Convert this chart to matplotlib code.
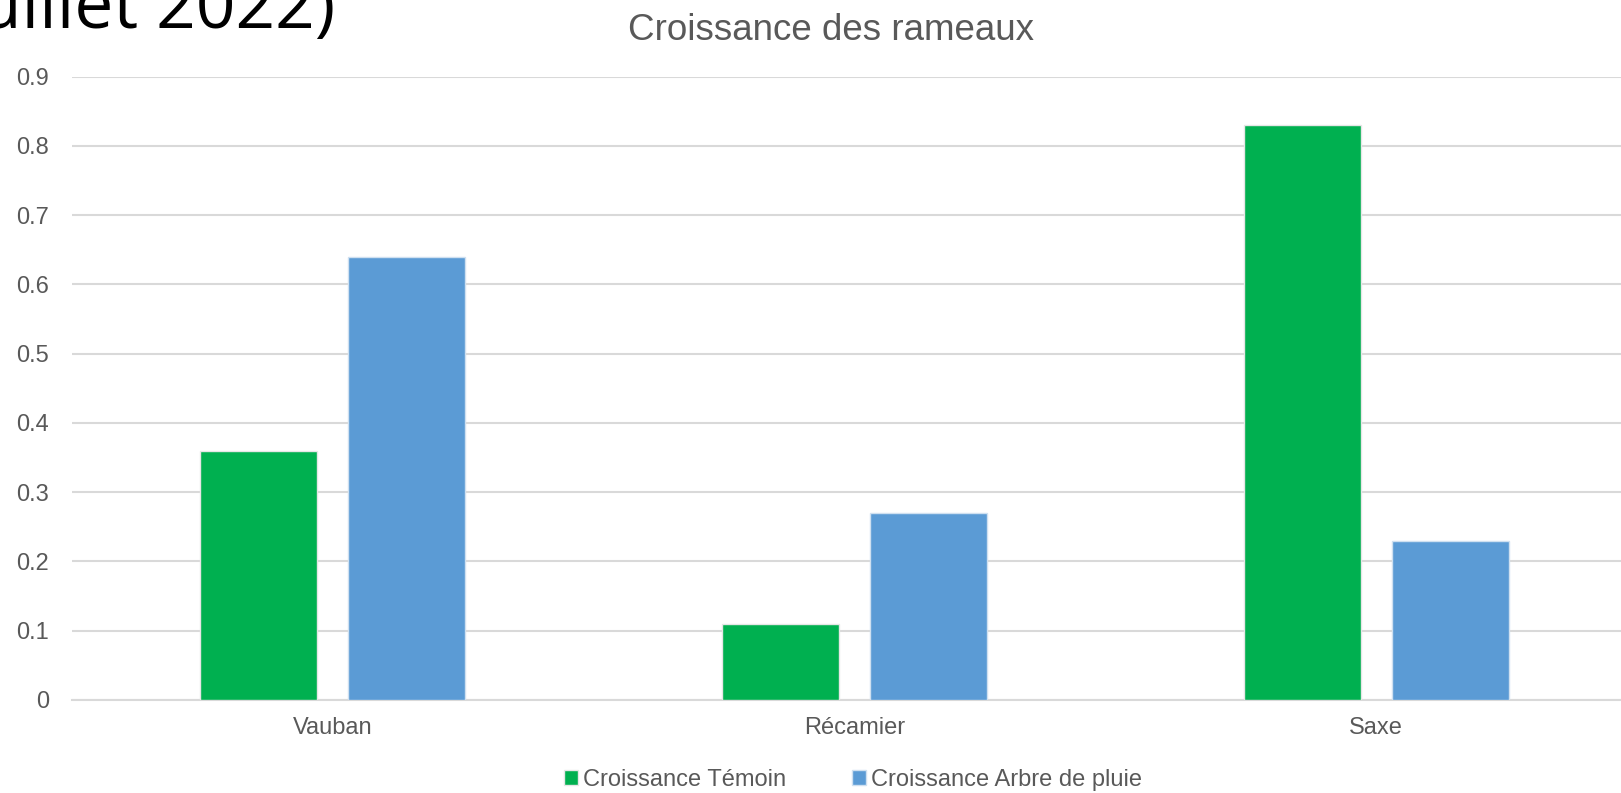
import matplotlib
matplotlib.use("Agg")
import matplotlib.pyplot as plt
import numpy as np

categories = ["Vauban", "Récamier", "Saxe"]
temoin = [0.36, 0.11, 0.83]
arbre_pluie = [0.64, 0.27, 0.23]
series_labels = ["Croissance Témoin", "Croissance Arbre de pluie"]
yticks = [0, 0.1, 0.2, 0.3, 0.4, 0.5, 0.6, 0.7, 0.8, 0.9]
ytick_labels = ["0", "0.1", "0.2", "0.3", "0.4", "0.5", "0.6", "0.7", "0.8", "0.9"]

plt.rcParams["font.family"] = ["Liberation Sans", "DejaVu Sans"]
grey = "#595959"

fig = plt.figure(figsize=(16.21, 7.93), dpi=100)
# plot area runs a little past the right edge, as in the cropped slide
ax = fig.add_axes([0.0444, 0.1173, 0.9655, 0.7862])

x = np.arange(len(categories))
w = 0.224
ax.bar(x - 0.142, temoin, w, color="#00B050", edgecolor="#e6e6e6",
       linewidth=1, label=series_labels[0], zorder=3)
ax.bar(x + 0.142, arbre_pluie, w, color="#5B9BD5", edgecolor="#cfe0f0",
       linewidth=1, label=series_labels[1], zorder=3)

ax.set_xlim(-0.5, 2.5)
ax.set_ylim(0, 0.9)
ax.set_xticks(x, categories)
ax.set_yticks(yticks, ytick_labels)
ax.yaxis.grid(True, color="#d9d9d9", linewidth=1.5, zorder=0)
ax.tick_params(length=0, labelcolor=grey, labelsize=17)
ax.tick_params(axis="x", pad=12)
ax.tick_params(axis="y", pad=16.5)
for side in ["top", "right", "left"]:
    ax.spines[side].set_visible(False)
ax.spines["bottom"].set_color("#d9d9d9")
ax.spines["bottom"].set_linewidth(1.5)

fig.text(0.5127, 0.962, "Croissance des rameaux", ha="center", va="center",
         fontsize=26.5, color=grey)
# slide title, cut off by the crop
fig.text(0.2067, 0.965, "uillet 2022)", ha="right", va="baseline",
         fontsize=50, color="black", family=["Open Sans", "DejaVu Sans"])

leg = fig.legend(loc="center", bbox_to_anchor=(0.526, 0.017), ncol=2,
                 frameon=False, fontsize=17, handlelength=0.6,
                 handleheight=0.6, handletextpad=0.2, columnspacing=2.8)
for t in leg.get_texts():
    t.set_color(grey)

fig.savefig("out.png", dpi=100)
